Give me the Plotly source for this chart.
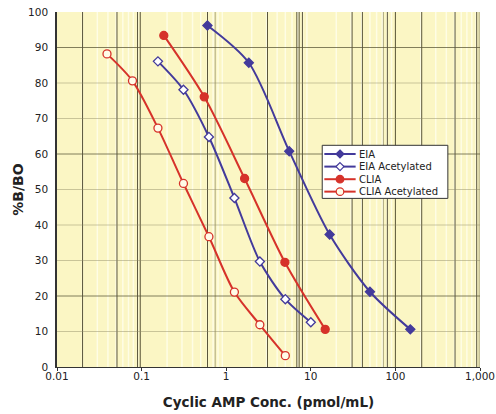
import plotly.graph_objects as go

# ---- data ----
eia_x = [0.6, 1.85, 5.56, 16.7, 50, 150]
eia_y = [96.2, 85.7, 60.8, 37.3, 21.2, 10.6]

eia_ac_x = [0.156, 0.3125, 0.625, 1.25, 2.5, 5, 10]
eia_ac_y = [86.1, 78.1, 64.8, 47.6, 29.7, 19.1, 12.6]

clia_x = [0.183, 0.55, 1.65, 4.94, 14.8]
clia_y = [93.4, 76.1, 53.1, 29.5, 10.6]

clia_ac_x = [0.039, 0.078, 0.156, 0.3125, 0.625, 1.25, 2.5, 5]
clia_ac_y = [88.2, 80.6, 67.3, 51.7, 36.7, 21.1, 11.9, 3.2]

series_names = ["EIA", "EIA Acetylated", "CLIA", "CLIA Acetylated"]

x_tickvals = [0.01, 0.1, 1, 10, 100, 1000]
x_ticktext = ["0.01", "0.1", "1", "10", "100", "1,000"]
y_tickvals = list(range(0, 101, 10))

BLUE = "#433a9b"
RED = "#d6322a"
BG = "#fbf6c4"
OPEN_FILL = "#fffbe8"

styles = [
    (BLUE, "diamond", BLUE),
    (BLUE, "diamond", "white"),
    (RED, "circle", RED),
    (RED, "circle", OPEN_FILL),
]

fig = go.Figure()
for (xs, ys), name, (color, symbol, fill) in zip(
        [(eia_x, eia_y), (eia_ac_x, eia_ac_y), (clia_x, clia_y), (clia_ac_x, clia_ac_y)],
        series_names, styles):
    fig.add_trace(go.Scatter(
        x=xs, y=ys, name=name, mode="lines+markers", showlegend=False,
        line=dict(color=color, width=2, shape="spline", smoothing=0.8),
        marker=dict(symbol=symbol, size=7 if symbol == "diamond" else 8,
                    color=fill, line=dict(color=color, width=1.3)),
    ))

# irregular background grid (paper fractions across the log axis)
shapes = []
faint_v = [0.0301, 0.0477, 0.0602, 0.0699, 0.0778, 0.0845, 0.0903, 0.0954]
for d in range(5):
    for f in faint_v:
        xf = d / 5 + f * 2
        shapes.append(dict(type="line", xref="paper", yref="paper", x0=xf, x1=xf,
                           y0=0, y1=1, line=dict(color="rgba(255,255,240,0.75)", width=1.5),
                           layer="below"))
dark_v = [-1.698, -1.291, -1.048, -1.016, -0.221, 0.488, 0.835, 0.862, 0.901,
          1.488, 1.610, 1.905, 2.0, 2.311, 2.705, 2.961]
mid_v = [-0.130, 1.858, 2.99]
for lv in dark_v:
    xf = (lv + 2) / 5
    shapes.append(dict(type="line", xref="paper", yref="paper", x0=xf, x1=xf, y0=0, y1=1,
                       line=dict(color="rgba(60,55,30,0.85)", width=1), layer="below"))
for lv in mid_v:
    xf = (lv + 2) / 5
    shapes.append(dict(type="line", xref="paper", yref="paper", x0=xf, x1=xf, y0=0, y1=1,
                       line=dict(color="rgba(120,115,80,0.6)", width=1), layer="below"))
for yv in [10, 30, 40, 50, 70, 80]:
    shapes.append(dict(type="line", xref="paper", yref="y", x0=0, x1=1, y0=yv, y1=yv,
                       line=dict(color="rgba(140,135,100,0.45)", width=1), layer="below"))
for yv in [20, 60, 90]:
    shapes.append(dict(type="line", xref="paper", yref="y", x0=0, x1=1, y0=yv, y1=yv,
                       line=dict(color="rgba(90,85,55,0.75)", width=1), layer="below"))

FONT = "DejaVu Sans"

# ---- compact legend box drawn with shapes + annotations ----
annotations = []
lx0, lx1, ly_top, ly_bot = 0.627, 0.924, 0.6245, 0.475
shapes.append(dict(type="rect", xref="paper", yref="paper", x0=lx0, x1=lx1,
                   y0=ly_bot, y1=ly_top, fillcolor="white",
                   line=dict(color="#333333", width=1), layer="above"))
item_y = [0.600, 0.5645, 0.529, 0.494]
for name, (color, symbol, fill), yy in zip(series_names, styles, item_y):
    shapes.append(dict(type="line", xref="paper", yref="paper", x0=0.632, x1=0.706,
                       y0=yy, y1=yy, line=dict(color=color, width=2), layer="above"))
    if symbol == "diamond":
        shapes.append(dict(type="path", xref="paper", yref="paper", xsizemode="pixel",
                           ysizemode="pixel", xanchor=0.669, yanchor=yy,
                           path="M0,4 L4,0 L0,-4 L-4,0 Z", fillcolor=fill,
                           line=dict(color=color, width=1.2), layer="above"))
    else:
        shapes.append(dict(type="circle", xref="paper", yref="paper", xsizemode="pixel",
                           ysizemode="pixel", xanchor=0.669, yanchor=yy,
                           x0=-3.8, x1=3.8, y0=-3.8, y1=3.8, fillcolor=fill,
                           line=dict(color=color, width=1.2), layer="above"))
    annotations.append(dict(text=name, xref="paper", yref="paper", x=0.709, y=yy,
                            xanchor="left", yanchor="middle", showarrow=False,
                            font=dict(family=FONT, size=10, color="#222222")))

fig.update_layout(
    width=496, height=414,
    margin=dict(l=57, r=16, t=12, b=47, autoexpand=False),
    paper_bgcolor="white",
    plot_bgcolor=BG,
    shapes=shapes,
    annotations=annotations,
    font=dict(family=FONT, color="#222222", size=11),
    showlegend=False,
    xaxis=dict(type="log", range=[-2, 3], tickvals=x_tickvals, ticktext=x_ticktext,
               automargin=False, ticklabeloverflow="allow",
               showgrid=False, zeroline=False, showline=True, linecolor="#333333",
               linewidth=1, ticks="outside", ticklen=3, tickcolor="#333333",
               tickfont=dict(size=10.5), ticklabelstandoff=-4,
               title=dict(text="<b>Cyclic AMP Conc. (pmol/mL)</b>",
                          font=dict(size=13.5, family=FONT), standoff=16)),
    yaxis=dict(range=[0, 100], tickvals=y_tickvals, showgrid=False, zeroline=False,
               automargin=False, ticklabeloverflow="allow",
               showline=True, linecolor="#333333", linewidth=1.5, ticks="",
               tickfont=dict(size=10.5), ticklabelstandoff=5,
               title=dict(text="<b>%B/BO</b>", font=dict(size=14, family=FONT), standoff=1)),
)

fig.write_html("out.html", config={"displayModeBar": False},
               post_script="document.body.style.margin='0px';document.body.style.overflow='hidden';")
